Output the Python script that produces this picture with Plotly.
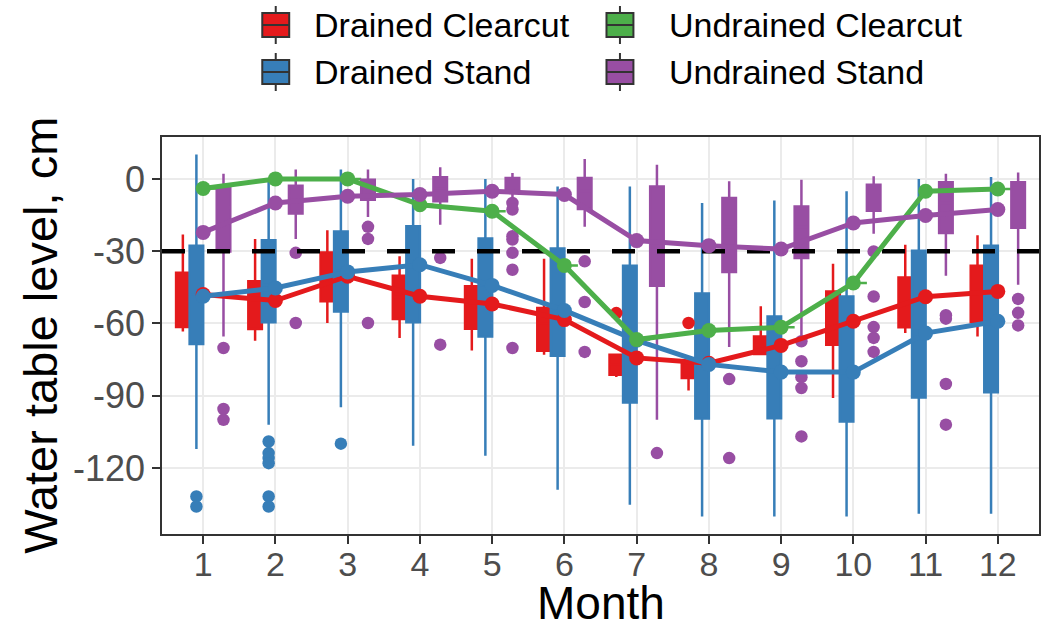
import plotly.graph_objects as go

# ---------------- data ----------------
months = [1, 2, 3, 4, 5, 6, 7, 8, 9, 10, 11, 12]
groups = ["Drained Clearcut", "Drained Stand", "Undrained Clearcut", "Undrained Stand"]
colors = ["#E41A1C", "#377EB8", "#4DAF4A", "#984EA3"]

# Drained Clearcut boxes
dc_q1 = [-61.5, -62.3, -50.8, -58.1, -62.2, -71.3, -81.3, -82.6, -72.7, -68.8, -61.6, -59.5]
dc_med = [-50.0, -52.0, -41.0, -49.0, -52.0, -60.0, -77.0, -79.0, -69.0, -58.0, -50.0, -47.0]
dc_q3 = [-39.0, -42.5, -30.5, -40.2, -44.6, -53.6, -73.0, -75.7, -65.4, -46.7, -40.9, -36.0]
dc_lo = [-63.3, -67.2, -59.8, -66.0, -71.2, -73.0, -82.2, -87.8, -72.7, -90.9, -64.0, -65.4]
dc_hi = [-23.1, -24.9, -21.3, -32.1, -33.1, -33.1, -73.0, -75.7, -52.9, -35.2, -27.3, -23.4]
dc_out_month = [7, 8]
dc_out_value = [-55.7, -59.8]

# Drained Stand boxes
ds_q1 = [-68.5, -59.5, -55.0, -59.5, -65.4, -73.4, -92.8, -99.5, -99.3, -100.7, -90.7, -88.6]
ds_med = [-48.0, -44.0, -38.0, -36.0, -44.0, -53.0, -66.0, -76.0, -80.0, -80.0, -62.0, -58.0]
ds_q3 = [-27.7, -25.5, -21.8, -19.7, -24.7, -28.9, -36.0, -47.6, -57.1, -48.8, -29.8, -27.7]
ds_lo = [-112.1, -102.0, -94.8, -110.8, -114.9, -129.0, -135.3, -140.1, -140.1, -140.1, -139.0, -139.0]
ds_hi = [10.1, 0.0, 3.9, 0.0, 0.0, -3.1, -3.1, -10.0, -9.0, -5.1, 0.0, 0.8]
ds_out_month = [1, 1, 2, 2, 2, 2, 2, 2, 3]
ds_out_value = [-131.8, -136.0, -109.0, -113.8, -115.9, -118.0, -131.8, -136.0, -109.9]

# Undrained Clearcut (single observation per month)
uc_value = [-4.0, 0.0, 0.0, -10.7, -13.4, -35.9, -66.7, -62.9, -61.6, -43.2, -5.1, -4.2]

# Undrained Stand boxes
us_q1 = [-30.1, -14.4, -8.6, -9.3, -5.6, -12.5, -44.3, -38.6, -32.8, -13.2, -22.4, -20.3]
us_med = [-12.0, -7.0, -3.0, -4.0, -2.0, -5.0, -25.0, -20.0, -20.0, -7.0, -10.0, -8.0]
us_q3 = [-3.7, -2.8, -0.3, 0.7, 0.4, 0.4, -3.1, -7.9, -11.4, -2.4, -1.4, -1.4]
us_lo = [-65.4, -24.9, -15.8, -19.0, -8.0, -19.9, -100.0, -69.8, -69.5, -22.8, -40.2, -43.9]
us_hi = [2.1, 3.9, 3.9, 4.8, 2.5, 8.3, 5.9, -1.0, -0.3, 1.1, 2.1, 2.7]
us_out_month = [1, 1, 1, 2, 2, 3, 3, 3, 4, 4,
                5, 5, 5, 5, 5, 5, 5, 6, 6, 6, 7, 8, 8,
                9, 9, 9, 9, 9, 10, 10, 10, 10, 10, 11, 11, 11, 11, 12, 12, 12]
us_out_value = [-70.2, -95.5, -100.0, -30.7, -59.8, -19.9, -24.9, -59.8, -32.8, -68.8,
                -10.0, -12.7, -23.8, -25.2, -30.7, -37.7, -70.2, -34.2, -51.1, -71.8, -113.8, -83.1, -115.9,
                -67.4, -75.7, -82.3, -86.8, -106.9, -30.1, -48.8, -61.5, -66.0, -71.8, -56.6, -58.0, -85.1, -102.0,
                -49.8, -55.6, -60.8]

# monthly means (lines)
dc_mean = [-48.0, -50.5, -40.4, -48.7, -51.9, -58.4, -74.3, -76.5, -69.1, -59.1, -48.9, -46.7]
ds_mean = [-48.7, -45.3, -38.6, -35.6, -44.2, -54.6, -67.0, -77.0, -80.2, -80.2, -64.0, -59.1]
uc_mean = uc_value
us_mean = [-22.2, -10.0, -7.2, -6.5, -5.1, -6.5, -25.6, -27.7, -29.1, -18.3, -15.2, -12.7]

threshold = -30
y_ticks = [-120, -90, -60, -30, 0]
x_title = "Month"
y_title = "Water table level, cm"

# ---------------- layout constants ----------------
X_RANGE = [0.43, 12.57]
Y_RANGE = [-147.4, 17.4]
DODGE = 0.75
BOXW = DODGE / 4
FONT = "Liberation Sans, Arial, sans-serif"
W, H = 1048, 629
ML, MR, MT, MB = 162, 7, 137, 95
PW, PH = W - ML - MR, H - MT - MB


def px(xp):
    return (xp - ML) / PW


def py(yp):
    return (H - MB - yp) / PH


box_stats = [
    (dc_q1, dc_med, dc_q3, dc_lo, dc_hi),
    (ds_q1, ds_med, ds_q3, ds_lo, ds_hi),
    (uc_value, uc_value, uc_value, uc_value, uc_value),
    (us_q1, us_med, us_q3, us_lo, us_hi),
]
outliers = [
    (dc_out_month, dc_out_value),
    (ds_out_month, ds_out_value),
    ([], []),
    (us_out_month, us_out_value),
]
means = [dc_mean, ds_mean, uc_mean, us_mean]

fig = go.Figure()

for i, (g, c) in enumerate(zip(groups, colors)):
    off = (i - 1.5) * BOXW
    q1, med, q3, lo, hi = box_stats[i]
    fig.add_trace(go.Box(
        x=[m + off for m in months], q1=q1, median=med, q3=q3,
        lowerfence=lo, upperfence=hi, width=BOXW,
        fillcolor=c, line=dict(color=c, width=2.5), whiskerwidth=0,
        boxpoints=False, showlegend=False, name=g,
    ))

for i, (g, c) in enumerate(zip(groups, colors)):
    off = (i - 1.5) * BOXW
    om, ov = outliers[i]
    if om:
        fig.add_trace(go.Scatter(
            x=[m + off for m in om], y=ov, mode="markers",
            marker=dict(color=c, size=12.5, line=dict(width=0)),
            showlegend=False, name=g,
        ))

fig.add_trace(go.Scatter(
    x=X_RANGE, y=[threshold, threshold], mode="lines",
    line=dict(color="black", width=4.5, dash="23px,22px"),
    showlegend=False, hoverinfo="skip",
))

for i, (g, c) in enumerate(zip(groups, colors)):
    fig.add_trace(go.Scatter(
        x=months, y=means[i], mode="lines+markers",
        line=dict(color=c, width=5),
        marker=dict(color=c, size=15, line=dict(width=0)),
        showlegend=False, name=g,
    ))

# ---------------- manual legend ----------------
shapes = []
annotations = []
key_cols = [276, 621]
text_cols = [312, 668]
rows = [25, 72]
KW, KH, WH = 27, 24, 7
for i, (g, c) in enumerate(zip(groups, colors)):
    col, row = i // 2, i % 2
    cx, cy = key_cols[col], rows[row]
    shapes.append(dict(type="line", xref="paper", yref="paper",
                       x0=px(cx), x1=px(cx), y0=py(cy - KH / 2 - WH), y1=py(cy + KH / 2 + WH),
                       line=dict(color="#333333", width=2)))
    shapes.append(dict(type="rect", xref="paper", yref="paper",
                       x0=px(cx - KW / 2), x1=px(cx + KW / 2), y0=py(cy - KH / 2), y1=py(cy + KH / 2),
                       fillcolor=c, line=dict(color="#333333", width=2)))
    shapes.append(dict(type="line", xref="paper", yref="paper",
                       x0=px(cx - KW / 2), x1=px(cx + KW / 2), y0=py(cy), y1=py(cy),
                       line=dict(color="#333333", width=2)))
    annotations.append(dict(text=g, xref="paper", yref="paper", x=px(text_cols[col]), y=py(cy),
                            xanchor="left", yanchor="middle", showarrow=False,
                            font=dict(family=FONT, size=34, color="black")))

annotations.append(dict(text=x_title, xref="paper", yref="paper", x=0.5, y=py(603),
                        xanchor="center", yanchor="middle", showarrow=False,
                        font=dict(family=FONT, size=46, color="black")))
annotations.append(dict(text=y_title, xref="paper", yref="paper", x=px(40), y=0.5,
                        xanchor="center", yanchor="middle", showarrow=False, textangle=-90,
                        font=dict(family=FONT, size=47, color="black")))

fig.update_layout(
    width=W, height=H,
    margin=dict(l=ML, r=MR, t=MT, b=MB),
    paper_bgcolor="white", plot_bgcolor="white",
    boxmode="overlay",
    showlegend=False,
    shapes=shapes, annotations=annotations,
    font=dict(family=FONT),
)
fig.update_xaxes(
    range=X_RANGE, tickvals=months, ticktext=[str(m) for m in months],
    ticks="outside", ticklen=8, tickwidth=2, tickcolor="#333333",
    tickfont=dict(family=FONT, size=34, color="#4D4D4D"),
    ticklabelstandoff=-9,
    showgrid=True, gridcolor="#EBEBEB", gridwidth=2, zeroline=False,
    showline=True, mirror=True, linecolor="#333333", linewidth=1.5,
)
fig.update_yaxes(
    range=Y_RANGE, tickvals=y_ticks, ticktext=[str(v) for v in y_ticks],
    ticks="outside", ticklen=8, tickwidth=2, tickcolor="#333333",
    tickfont=dict(family=FONT, size=36, color="#4D4D4D"),
    showgrid=True, gridcolor="#EBEBEB", gridwidth=2, zeroline=False,
    showline=True, mirror=True, linecolor="#333333", linewidth=1.5,
)

fig.write_html("out.html")
